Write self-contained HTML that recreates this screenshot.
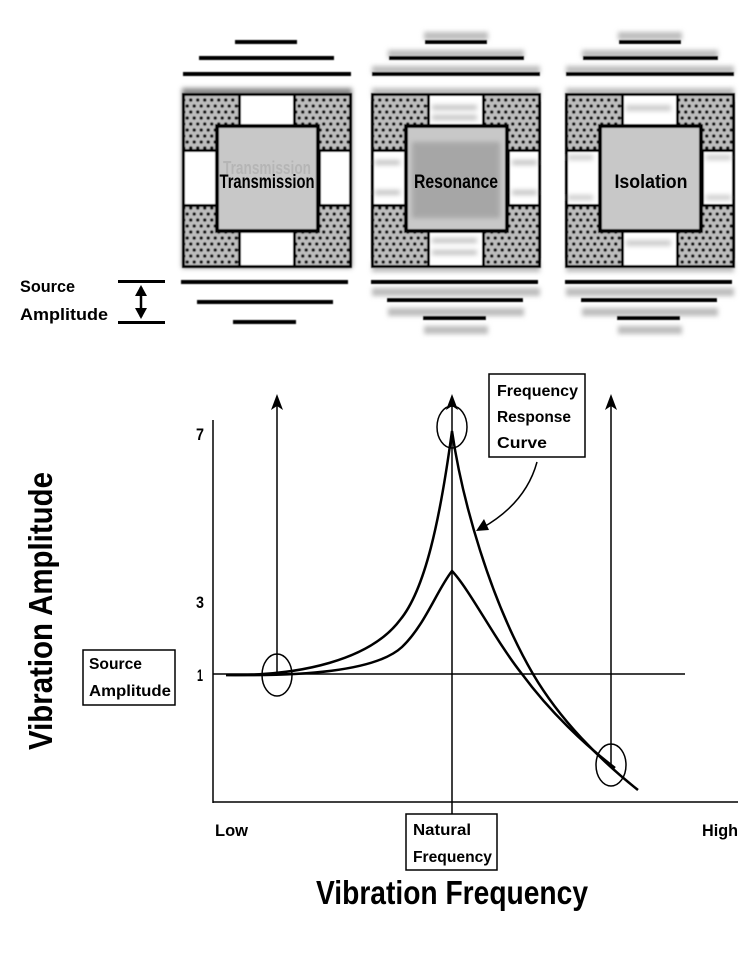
<!DOCTYPE html>
<html><head><meta charset="utf-8"><style>
html,body{margin:0;padding:0;background:#fff;}
svg{display:block;}
text{font-family:"Liberation Sans",sans-serif;font-weight:bold;}
</style></head><body>
<svg width="750" height="966" viewBox="0 0 750 966" xmlns="http://www.w3.org/2000/svg">
<defs>
<pattern id="dots" width="7" height="12" patternUnits="userSpaceOnUse">
<rect width="7" height="12" fill="#bdbdbd"/>
<circle cx="1.75" cy="3" r="1.8" fill="#111"/>
<circle cx="5.25" cy="9" r="1.8" fill="#111"/>
</pattern>
<filter id="bl" x="-10%" y="-10%" width="120%" height="120%"><feGaussianBlur stdDeviation="2.5"/></filter>
<filter id="bs" x="-5%" y="-5%" width="110%" height="110%"><feGaussianBlur stdDeviation="0.6"/></filter>
<g id="blk">
<rect x="0" y="8" width="170" height="175" fill="#000"/>
<rect x="3" y="11" width="53" height="53" fill="url(#dots)"/>
<rect x="114" y="11" width="53" height="53" fill="url(#dots)"/>
<rect x="3" y="122" width="53" height="58" fill="url(#dots)"/>
<rect x="114" y="122" width="53" height="58" fill="url(#dots)"/>
<rect x="59" y="11" width="52" height="28" fill="#fff"/>
<rect x="59" y="148" width="52" height="32" fill="#fff"/>
<rect x="3" y="67" width="30" height="52" fill="#fff"/>
<rect x="139" y="67" width="28" height="52" fill="#fff"/>
<rect x="33" y="39" width="105" height="109" fill="#000"/>
<rect x="37" y="43" width="97" height="101" fill="#c8c8c8"/>
</g>
</defs>

<!-- Transmission -->
<g filter="url(#bs)">
<g fill="#000">
<rect x="235" y="40" width="62" height="4"/>
<rect x="199" y="56" width="135" height="4"/>
<rect x="183" y="72" width="168" height="4"/>
<rect x="181" y="280" width="167" height="4"/>
<rect x="197" y="300" width="136" height="4"/>
<rect x="233" y="320" width="63" height="4"/>
</g>
<rect x="182" y="88" width="170" height="180" fill="#888" filter="url(#bl)"/>
<use href="#blk" x="182" y="85"/>
</g>
<text x="267" y="174" font-size="18" fill="#aaa" text-anchor="middle" opacity="0.6" textLength="88" lengthAdjust="spacingAndGlyphs">Transmission</text>
<text x="267" y="188" font-size="19" fill="#000" text-anchor="middle" textLength="95" lengthAdjust="spacingAndGlyphs">Transmission</text>

<!-- Resonance -->
<g filter="url(#bs)">
<g fill="#bbb" filter="url(#bl)">
<rect x="424" y="32" width="64" height="8"/>
<rect x="388" y="50" width="136" height="8"/>
<rect x="372" y="66" width="168" height="8"/>
<rect x="372" y="88" width="168" height="10"/>
<rect x="372" y="262" width="168" height="10"/>
<rect x="372" y="288" width="168" height="8"/>
<rect x="388" y="308" width="136" height="8"/>
<rect x="424" y="326" width="64" height="8"/>
</g>
<g fill="#000">
<rect x="425" y="40" width="62" height="4"/>
<rect x="389" y="56" width="135" height="4"/>
<rect x="372" y="72" width="168" height="4"/>
<rect x="371" y="280" width="167" height="4"/>
<rect x="387" y="298" width="136" height="4"/>
<rect x="423" y="316" width="63" height="4"/>
</g>
<use href="#blk" x="371" y="85"/>
<g fill="#aaa" opacity="0.7" filter="url(#bl)">
<rect x="432" y="105" width="45" height="5"/><rect x="432" y="115" width="45" height="5"/>
<rect x="432" y="238" width="45" height="5"/><rect x="432" y="250" width="45" height="5"/>
<rect x="375" y="160" width="25" height="5"/><rect x="375" y="190" width="25" height="5"/>
<rect x="512" y="160" width="25" height="5"/><rect x="512" y="190" width="25" height="5"/>
<rect x="412" y="142" width="88" height="76" fill="#999"/>
</g>
</g>
<text x="456" y="188" font-size="19" fill="#000" text-anchor="middle" textLength="84" lengthAdjust="spacingAndGlyphs">Resonance</text>

<!-- Isolation -->
<g filter="url(#bs)">
<g fill="#bbb" filter="url(#bl)">
<rect x="618" y="32" width="64" height="8"/>
<rect x="582" y="50" width="136" height="8"/>
<rect x="566" y="66" width="168" height="8"/>
<rect x="566" y="88" width="168" height="10"/>
<rect x="566" y="262" width="168" height="10"/>
<rect x="566" y="288" width="168" height="8"/>
<rect x="582" y="308" width="136" height="8"/>
<rect x="618" y="326" width="64" height="8"/>
</g>
<g fill="#000">
<rect x="619" y="40" width="62" height="4"/>
<rect x="583" y="56" width="135" height="4"/>
<rect x="566" y="72" width="168" height="4"/>
<rect x="565" y="280" width="167" height="4"/>
<rect x="581" y="298" width="136" height="4"/>
<rect x="617" y="316" width="63" height="4"/>
</g>
<use href="#blk" x="565" y="85"/>
<g fill="#aaa" opacity="0.6" filter="url(#bl)">
<rect x="626" y="105" width="45" height="6"/>
<rect x="626" y="240" width="45" height="6"/>
<rect x="568" y="155" width="25" height="5"/><rect x="568" y="195" width="25" height="5"/>
<rect x="706" y="155" width="25" height="5"/><rect x="706" y="195" width="25" height="5"/>
</g>
</g>
<text x="651" y="188" font-size="19" fill="#000" text-anchor="middle" textLength="73" lengthAdjust="spacingAndGlyphs">Isolation</text>

<!-- Source amplitude bracket -->
<text x="20" y="292" font-size="17" textLength="55" lengthAdjust="spacingAndGlyphs">Source</text>
<text x="20" y="320" font-size="17" textLength="88" lengthAdjust="spacingAndGlyphs">Amplitude</text>
<rect x="118" y="280" width="47" height="3" fill="#000"/>
<rect x="118" y="321" width="47" height="3" fill="#000"/>
<line x1="141" y1="287" x2="141" y2="317" stroke="#000" stroke-width="2.5"/>
<path d="M135,296 L141,285 L147,296 Z M135,308 L141,319 L147,308 Z" fill="#000"/>

<!-- Graph -->
<g stroke="#000" fill="none" stroke-width="1.5">
<line x1="213" y1="420" x2="213" y2="803"/>
<line x1="213" y1="802" x2="738" y2="802"/>
<line x1="213" y1="674" x2="685" y2="674"/>
<line x1="277" y1="674" x2="277" y2="398"/>
<line x1="452" y1="815" x2="452" y2="398"/>
<line x1="611" y1="765" x2="611" y2="398"/>
<ellipse cx="277" cy="675" rx="15" ry="21"/>
<ellipse cx="452" cy="427" rx="15" ry="21"/>
<ellipse cx="611" cy="765" rx="15" ry="21"/>
</g>
<g fill="#000">
<path d="M277,394 L283,410 L277,406 L271,410 Z"/>
<path d="M452,394 L458,410 L452,406 L446,410 Z"/>
<path d="M611,394 L617,410 L611,406 L605,410 Z"/>
</g>
<g stroke="#000" fill="none" stroke-width="2.5">
<path d="M226,675 C300,676 370,660 400,620 C425,590 440,520 452,431 C462,500 490,600 533,674 C560,720 600,760 638,790"/>
<path d="M226,675 C300,676 375,672 402,647 C425,625 437,590 452,571 C470,590 495,640 522,674 C550,712 585,745 615,768"/>
</g>
<path d="M537,462 C528,495 505,515 482,528" stroke="#000" stroke-width="1.5" fill="none"/>
<path d="M476,531 L484,519 L489,530 Z" fill="#000"/>

<text x="196" y="440" font-size="17" textLength="8" lengthAdjust="spacingAndGlyphs">7</text>
<text x="196" y="608" font-size="17" textLength="8" lengthAdjust="spacingAndGlyphs">3</text>
<text x="197" y="681" font-size="17" textLength="6" lengthAdjust="spacingAndGlyphs">1</text>
<text x="215" y="836" font-size="17" textLength="33" lengthAdjust="spacingAndGlyphs">Low</text>
<text x="702" y="836" font-size="17" textLength="36" lengthAdjust="spacingAndGlyphs">High</text>

<rect x="83" y="650" width="92" height="55" fill="none" stroke="#000" stroke-width="1.5"/>
<text x="89" y="669" font-size="16" textLength="53" lengthAdjust="spacingAndGlyphs">Source</text>
<text x="89" y="696" font-size="16" textLength="82" lengthAdjust="spacingAndGlyphs">Amplitude</text>

<rect x="489" y="374" width="96" height="83" fill="#fff" stroke="#000" stroke-width="1.5"/>
<text x="497" y="396" font-size="16" textLength="81" lengthAdjust="spacingAndGlyphs">Frequency</text>
<text x="497" y="422" font-size="16" textLength="74" lengthAdjust="spacingAndGlyphs">Response</text>
<text x="497" y="448" font-size="16" textLength="50" lengthAdjust="spacingAndGlyphs">Curve</text>

<rect x="406" y="814" width="91" height="56" fill="#fff" stroke="#000" stroke-width="1.5"/>
<text x="413" y="835" font-size="16" textLength="58" lengthAdjust="spacingAndGlyphs">Natural</text>
<text x="413" y="862" font-size="16" textLength="79" lengthAdjust="spacingAndGlyphs">Frequency</text>

<text x="452" y="904" font-size="33" text-anchor="middle" textLength="272" lengthAdjust="spacingAndGlyphs">Vibration Frequency</text>
<text transform="translate(52,611) rotate(-90)" font-size="33" text-anchor="middle" textLength="278" lengthAdjust="spacingAndGlyphs">Vibration Amplitude</text>
</svg>
</body></html>
